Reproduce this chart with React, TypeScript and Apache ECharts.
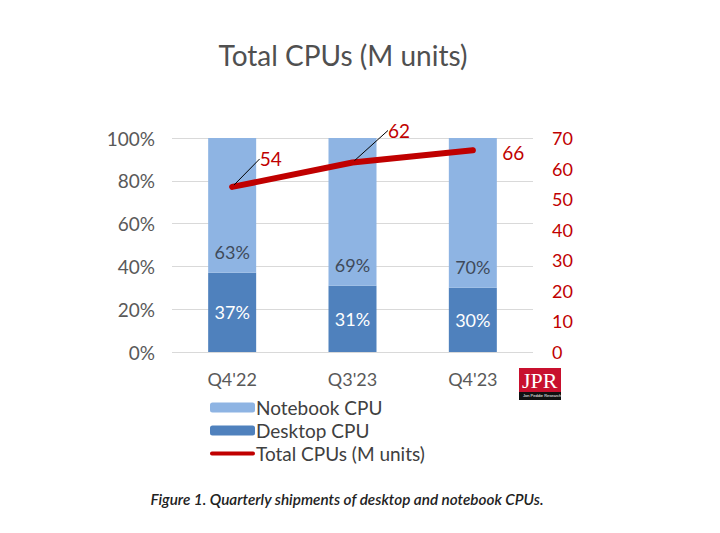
import React, { useEffect, useRef } from "react";
import * as echarts from "echarts";

const categories = ["Q4'22", "Q3'23", "Q4'23"];
const notebookShare = [63, 69, 70];
const desktopShare = [37, 31, 30];
const totalUnits = [54, 62, 66];

const FONT = "Lato";

export default function App() {
  const ref = useRef<HTMLDivElement>(null);
  useEffect(() => {
    if (!ref.current) return;
    const chart = echarts.init(ref.current, null, { renderer: "svg" });
    const labelShift = [
      { dx: 20, dy: -28 },
      { dx: 28, dy: -32 },
      { dx: 22, dy: 2 },
    ];
    const lineData = totalUnits.map((v, i) =>
      i === totalUnits.length - 1 ? { value: v, labelLine: { show: false } } : { value: v }
    );
    chart.setOption({
      animation: false,
      backgroundColor: "#ffffff",
      title: {
        text: "Total CPUs (M units)",
        left: 338,
        textAlign: "center",
        top: 36,
        textStyle: { fontFamily: FONT, fontSize: 28, fontWeight: "normal", color: "#505050" },
      },
      grid: { left: 172, right: 187, top: 138, bottom: 181 },
      legend: {
        orient: "vertical",
        left: 205,
        top: 393,
        itemWidth: 45,
        itemHeight: 10,
        itemGap: 4,
        textStyle: { fontFamily: FONT, fontSize: 19, color: "#404040", padding: [0, 0, 0, -4] },
        data: [
          { name: "Notebook CPU" },
          { name: "Desktop CPU" },
          { name: "Total CPUs (M units)", icon: "path://M2,0 L88,0 A4,4 0 0 1 88,8 L2,8 A4,4 0 0 1 2,0 Z" },
        ],
      },
      xAxis: {
        type: "category",
        data: categories,
        axisLine: { show: false },
        axisTick: { show: false },
        axisLabel: { fontFamily: FONT, fontSize: 18, color: "#595959", margin: 18 },
      },
      yAxis: [
        {
          type: "value",
          min: 0,
          max: 100,
          interval: 20,
          axisLabel: { formatter: "{value}%", fontFamily: FONT, fontSize: 19, color: "#595959", margin: 17 },
          splitLine: { lineStyle: { color: "#d9d9d9", width: 1 } },
          axisLine: { show: false },
          axisTick: { show: false },
        },
        {
          type: "value",
          min: 0,
          max: 70,
          interval: 10,
          position: "right",
          axisLabel: { fontFamily: FONT, fontSize: 18, color: "#c00000", margin: 19 },
          splitLine: { show: false },
          axisLine: { show: false },
          axisTick: { show: false },
        },
      ],
      series: [
        {
          name: "Desktop CPU",
          type: "bar",
          stack: "share",
          barWidth: 48,
          data: desktopShare,
          itemStyle: { color: "#4f81bd" },
          label: {
            show: true,
            position: "inside",
            formatter: "{c}%",
            fontFamily: FONT,
            fontSize: 18,
            color: "#ffffff",
          },
        },
        {
          name: "Notebook CPU",
          type: "bar",
          stack: "share",
          barWidth: 48,
          data: notebookShare,
          itemStyle: { color: "#8eb4e3" },
          label: {
            show: true,
            position: "insideBottom",
            distance: 12,
            formatter: "{c}%",
            fontFamily: FONT,
            fontSize: 18,
            color: "#3f4a5a",
          },
        },
        {
          name: "Total CPUs (M units)",
          type: "line",
          yAxisIndex: 1,
          data: lineData,
          symbol: "circle",
          symbolSize: 5,
          itemStyle: { color: "#c00000" },
          lineStyle: { color: "#c00000", width: 6, cap: "round" },
          label: {
            show: true,
            position: "right",
            fontFamily: FONT,
            fontSize: 19,
            color: "#c00000",
          },
          labelLine: { show: true, lineStyle: { color: "#000000", width: 1 } },
          labelLayout: (p: any) => labelShift[p.dataIndex],
          z: 5,
        },
      ],
      graphic: [
        { type: "rect", left: 519, top: 368, shape: { width: 42, height: 25 }, style: { fill: "#c8102e" } },
        { type: "rect", left: 519, top: 392, shape: { width: 42, height: 8 }, style: { fill: "#111111" } },
        {
          type: "text",
          left: 522,
          top: 369,
          style: { text: "JPR", fill: "#ffffff", font: "22px 'Liberation Serif'" },
        },
        {
          type: "text",
          left: 523,
          top: 393,
          style: { text: "Jon Peddie Research", fill: "#ffffff", font: "4px 'Liberation Sans'" },
        },
        {
          type: "text",
          x: 347,
          y: 499,
          style: {
            text: "Figure 1. Quarterly shipments of desktop and notebook CPUs.",
            fill: "#222222",
            font: "italic 600 15.3px Lato",
            align: "center",
            verticalAlign: "middle",
          },
        },
      ],
    });
    return () => chart.dispose();
  }, []);
  return <div ref={ref} style={{ width: 720, height: 533, margin: -8 }} />;
}
